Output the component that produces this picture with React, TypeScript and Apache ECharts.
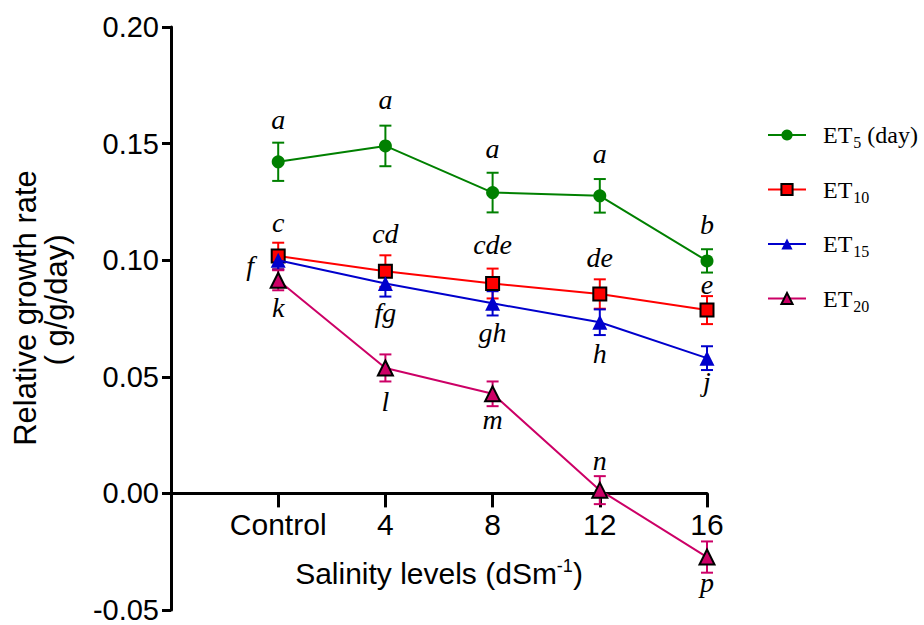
import React, { useEffect, useRef } from 'react';
import * as echarts from 'echarts';

// ---- data ----
const CATEGORIES = ['Control', '4', '8', '12', '16'];
const X_POS = [0, 1, 2, 3, 4];

const ET5 = [0.1422, 0.149, 0.129, 0.1276, 0.0997];
const ET5_ERR = [0.0082, 0.0087, 0.0085, 0.0072, 0.005];
const ET10 = [0.1018, 0.0953, 0.09, 0.0855, 0.0786];
const ET10_ERR = [0.0057, 0.0068, 0.0064, 0.0063, 0.006];
const ET15 = [0.1, 0.09, 0.0815, 0.0734, 0.058];
const ET15_ERR = [0.004, 0.0056, 0.0052, 0.0055, 0.0051];
const ET20 = [0.0914, 0.0538, 0.0427, 0.0014, -0.0273];
const ET20_ERR = [0.0043, 0.0058, 0.0053, 0.006, 0.0067];

const LETTERS_ET5 = ['a', 'a', 'a', 'a', 'b'];
const LETTERS_ET10 = ['c', 'cd', 'cde', 'de', 'e'];
const LETTERS_ET15 = ['f', 'fg', 'gh', 'h', 'j'];
const LETTERS_ET20 = ['k', 'l', 'm', 'n', 'p'];

const Y_MIN = -0.05;
const Y_MAX = 0.2;
const Y_INTERVAL = 0.05;

// ---- styling (letter placement relative to error-bar ends, in px) ----
const SIDE_ET5 = ['top', 'top', 'top', 'top', 'top'];
const DY_ET5 = [-23, -26, -24, -26, -25];
const SIDE_ET10 = ['top', 'top', 'top', 'top', 'top'];
const DY_ET10 = [-20, -22, -24, -22, -12];
const SIDE_ET15 = ['left', 'bottom', 'bottom', 'bottom', 'bottom'];
const DY_ET15 = [5, 16, 17, 18, 11];
const SIDE_ET20 = ['bottom', 'bottom', 'bottom', 'top', 'bottom'];
const DY_ET20 = [17, 20, 13, -16, 10];

const GREEN = '#008000';
const RED = '#FF0000';
const BLUE = '#0000CC';
const MAGENTA = '#CC0066';

const SERIES = [
  { name: 'ET5 (day)', legend: '{m|ET}{s|5}{m| (day)}', values: ET5, err: ET5_ERR, letters: LETTERS_ET5, side: SIDE_ET5, dy: DY_ET5, color: GREEN, symbol: 'circle', size: 13, fill: GREEN, border: GREEN, bw: 0 },
  { name: 'ET10', legend: '{m|ET}{s|10}', values: ET10, err: ET10_ERR, letters: LETTERS_ET10, side: SIDE_ET10, dy: DY_ET10, color: RED, symbol: 'rect', size: 13, fill: RED, border: '#000', bw: 2 },
  { name: 'ET15', legend: '{m|ET}{s|15}', values: ET15, err: ET15_ERR, letters: LETTERS_ET15, side: SIDE_ET15, dy: DY_ET15, color: BLUE, symbol: 'triangle', size: 15, fill: BLUE, border: BLUE, bw: 0 },
  { name: 'ET20', legend: '{m|ET}{s|20}', values: ET20, err: ET20_ERR, letters: LETTERS_ET20, side: SIDE_ET20, dy: DY_ET20, color: MAGENTA, symbol: 'triangle', size: 15, fill: MAGENTA, border: '#000', bw: 2 },
];

const SANS = 'Liberation Sans, Arial, sans-serif';
const SERIF = 'Liberation Serif, Times New Roman, serif';

const GRID_TOP = 27;
const GRID_BOTTOM = 15;
const CHART_H = 625;

export default function App() {
  const ref = useRef<HTMLDivElement>(null);
  useEffect(() => {
    if (!ref.current) return;
    const chart = echarts.init(ref.current, undefined, { renderer: 'svg' });

    const series: any[] = [];
    SERIES.forEach((s, si) => {
      series.push({
        type: 'custom',
        name: s.name + '_err',
        silent: true,
        z: 2,
        clip: false,
        data: X_POS.map((x, i) => [x, s.values[i] - s.err[i], s.values[i] + s.err[i]]),
        encode: { x: 0, y: [1, 2] },
        renderItem: (params: any, api: any) => {
          const x = api.value(0);
          const lo = api.coord([x, api.value(1)]);
          const hi = api.coord([x, api.value(2)]);
          const cap = 6;
          const st = { stroke: s.color, lineWidth: 2 };
          return {
            type: 'group',
            children: [
              { type: 'line', shape: { x1: hi[0], y1: hi[1], x2: lo[0], y2: lo[1] }, style: st },
              { type: 'line', shape: { x1: hi[0] - cap, y1: hi[1], x2: hi[0] + cap, y2: hi[1] }, style: st },
              { type: 'line', shape: { x1: lo[0] - cap, y1: lo[1], x2: lo[0] + cap, y2: lo[1] }, style: st },
            ],
          };
        },
      });
      series.push({
        type: 'line',
        name: s.name,
        z: 3 + si,
        data: X_POS.map((x, i) => [x, s.values[i]]),
        symbol: s.symbol,
        symbolSize: s.size,
        showSymbol: true,
        lineStyle: { color: s.color, width: 2 },
        itemStyle: { color: s.fill, borderColor: s.border, borderWidth: s.bw },
        emphasis: { disabled: true },
      });
      series.push({
        type: 'custom',
        name: s.name + '_letters',
        silent: true,
        z: 10,
        clip: false,
        data: X_POS.map((x, i) => [x, s.values[i], s.err[i], i]),
        encode: { x: 0, y: 1 },
        renderItem: (params: any, api: any) => {
          const x = api.value(0);
          const v = api.value(1);
          const e = api.value(2);
          const i = api.value(3);
          const side = s.side[i];
          let px: number;
          let py: number;
          if (side === 'top') {
            const p = api.coord([x, v + e]);
            px = p[0];
            py = p[1] + s.dy[i];
          } else if (side === 'bottom') {
            const p = api.coord([x, v - e]);
            px = p[0];
            py = p[1] + s.dy[i];
          } else {
            const p = api.coord([x, v]);
            px = p[0] - 28;
            py = p[1] + s.dy[i];
          }
          return {
            type: 'text',
            x: px,
            y: py,
            style: {
              text: s.letters[i],
              fontFamily: SERIF,
              fontStyle: 'italic',
              fontSize: 28,
              fill: '#000',
              align: 'center',
              verticalAlign: 'middle',
            },
          };
        },
      });
    });

    const legendMap: Record<string, string> = {};
    SERIES.forEach((s) => (legendMap[s.name] = s.legend));

    // shift the bottom x axis up to y = 0
    const gridH = CHART_H - GRID_TOP - GRID_BOTTOM;
    const xAxisOffset = -((0 - Y_MIN) / (Y_MAX - Y_MIN)) * gridH;

    const option: any = {
      animation: false,
      backgroundColor: '#fff',
      grid: { left: 171, right: 217, top: GRID_TOP, bottom: GRID_BOTTOM, containLabel: false, outerBoundsMode: 'none' },
      legend: {
        orient: 'vertical',
        left: 762,
        top: 118,
        itemWidth: 38,
        itemHeight: 14,
        itemGap: 27,
        data: SERIES.map((s) => s.name),
        formatter: (name: string) => legendMap[name],
        textStyle: {
          fontFamily: SERIF,
          fontSize: 24,
          color: '#000',
          padding: [0, 0, 0, 12],
          rich: {
            m: { fontFamily: SERIF, fontSize: 24, color: '#000' },
            s: { fontFamily: SERIF, fontSize: 16, color: '#000', padding: [15, 0, 0, 1] },
          },
        },
        selectedMode: false,
      },
      xAxis: {
        type: 'value',
        min: -1,
        max: 4,
        position: 'bottom',
        offset: xAxisOffset,
        axisLine: { show: true, onZero: false, lineStyle: { color: '#000', width: 3 } },
        axisTick: { show: true, customValues: X_POS, length: 14, lineStyle: { color: '#000', width: 3 } },
        axisLabel: {
          show: true,
          customValues: X_POS,
          formatter: (v: number) => CATEGORIES[Math.round(v)] ?? '',
          fontFamily: SANS,
          fontSize: 30,
          color: '#000',
          margin: 16,
        },
        splitLine: { show: false },
        name: '{n|Salinity levels (dSm}{sup|-1}{n|)}',
        nameLocation: 'middle',
        nameGap: 64,
        nameTextStyle: {
          rich: {
            n: { fontFamily: SANS, fontSize: 30, color: '#000' },
            sup: { fontFamily: SANS, fontSize: 18, color: '#000', padding: [0, 0, 14, 0] },
          },
        },
      },
      yAxis: {
        type: 'value',
        min: Y_MIN,
        max: Y_MAX,
        interval: Y_INTERVAL,
        axisLine: { show: true, onZero: false, lineStyle: { color: '#000', width: 3 } },
        axisTick: { show: true, length: 9, lineStyle: { color: '#000', width: 3 } },
        axisLabel: {
          fontFamily: SANS,
          fontSize: 29,
          lineHeight: 20,
          color: '#000',
          margin: 12,
          formatter: (v: number) => v.toFixed(2),
        },
        splitLine: { show: false },
      },
      graphic: [
        {
          type: 'text',
          x: 25,
          y: 308,
          rotation: Math.PI / 2,
          style: {
            text: 'Relative growth rate',
            fontFamily: SANS,
            fontSize: 31,
            fill: '#000',
            align: 'center',
            verticalAlign: 'middle',
          },
        },
        {
          type: 'text',
          x: 56,
          y: 300,
          rotation: Math.PI / 2,
          style: {
            text: '( g/g/day)',
            fontFamily: SANS,
            fontSize: 31,
            fill: '#000',
            align: 'center',
            verticalAlign: 'middle',
          },
        },
      ],
      series,
    };

    chart.setOption(option);
    return () => chart.dispose();
  }, []);

  return (
    <div
      ref={ref}
      style={{ position: 'fixed', left: 0, top: 0, width: 924, height: 625, background: '#fff' }}
    />
  );
}
